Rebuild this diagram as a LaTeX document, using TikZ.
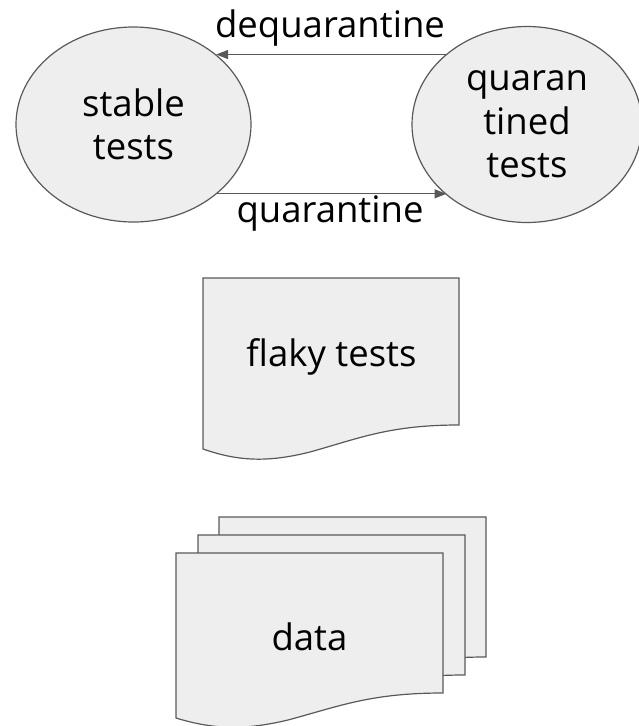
\documentclass[tikz,border=0pt]{standalone}
\usepackage{fontspec}
\setmainfont{Open Sans}
\usetikzlibrary{shapes.geometric,arrows.meta,calc}
\definecolor{shapefill}{HTML}{EEEEEE}
\definecolor{shapeline}{HTML}{595959}
\newcommand\bigfont{\fontsize{36.5}{43.5}\selectfont}
\tikzset{
  bubble/.style={ellipse, draw=shapeline, fill=shapefill, line width=1.2pt, inner sep=0pt, outer sep=0pt, align=center, font=\bigfont},
  docsheet/.style={draw=shapeline, fill=shapefill, line width=1.2pt, line join=miter},
  arr/.style={draw=shapeline, line width=1.2pt, -{Triangle[length=12pt,width=9pt]}},
  lbl/.style={font=\bigfont, inner sep=0pt, anchor=base},
}
\newcommand\flakysheet{%
  (0,0) -- (256,0) -- (256,-147) .. controls (187,-147) and (157,-160) .. (107,-174)
  .. controls (67,-184) and (37,-184) .. (0,-171) -- cycle}
\newcommand\datasheet{%
  (0,0) -- (267,0) -- (267,-140) .. controls (195,-140) and (164,-153) .. (112,-167)
  .. controls (70,-177) and (39,-177) .. (0,-165) -- cycle}
\begin{document}
\begin{tikzpicture}[x=1pt,y=1pt]
\useasboundingbox (0,0) rectangle (639,-726);
\clip (0,0) rectangle (639,-726);

% state bubbles
\node[bubble, minimum width=235pt, minimum height=195pt] (stable) at (133.5,-124.5) {stable\\tests};
\node[bubble, minimum width=230pt, minimum height=196pt] (quar) at (527,-124.5) {quaran\\tined\\tests};

% transitions
\draw[arr] (quar.139) -- (stable.40 |- quar.139);
\draw[arr] (stable.-40) -- (stable.-40 -| quar.-139);
\node[lbl] (deq) at (330,-37) {dequarantine};
\node[lbl] (qlab) at (330,-222) {quarantine};

% flaky tests document
\begin{scope}[shift={(203,-278)}]
  \draw[docsheet] \flakysheet;
\end{scope}
\node[lbl] (flaky) at (331.5,-366) {flaky tests};

% data multi-document
\begin{scope}[shift={(219,-517)}]
  \draw[docsheet] \datasheet;
\end{scope}
\begin{scope}[shift={(198,-535)}]
  \draw[docsheet] \datasheet;
\end{scope}
\begin{scope}[shift={(176,-553)}]
  \draw[docsheet] \datasheet;
\end{scope}
\node[lbl] (data) at (309.5,-650) {data};
\end{tikzpicture}
\end{document}
